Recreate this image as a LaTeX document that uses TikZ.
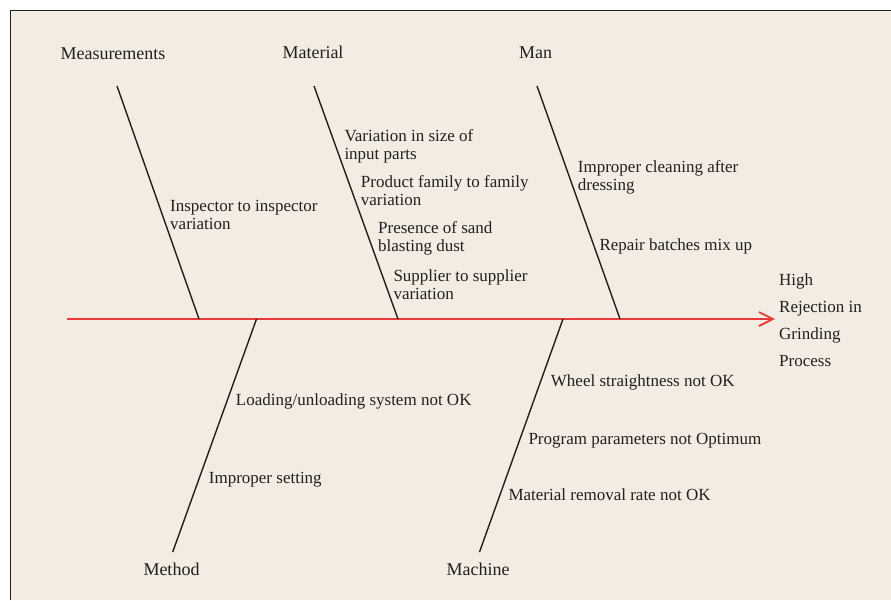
\documentclass[tikz,border=0pt]{standalone}
\usepackage{fontspec}
\setmainfont{Liberation Serif}
\usetikzlibrary{arrows.meta}
\definecolor{bgbeige}{RGB}{242,236,227}
\definecolor{spinered}{RGB}{232,58,58}
\definecolor{ink}{RGB}{35,31,32}
\newcommand{\mlines}[1]{\begin{tabular}[t]{@{}l@{}}#1\end{tabular}}
\begin{document}
\begin{tikzpicture}[x=1pt,y=-1pt,
  cat/.style={anchor=base,inner sep=0pt,text=ink,font=\fontsize{18}{20}\selectfont},
  cause/.style={anchor=base west,inner sep=0pt,text=ink,font=\fontsize{17}{18}\selectfont},
  effect/.style={anchor=base west,inner sep=0pt,text=ink,font=\fontsize{17}{27}\selectfont},
  bone/.style={draw=ink,line width=1.4pt},
  spineline/.style={draw=spinered,line width=1.8pt,-{Straight Barb[length=14pt,width=14pt,line width=1.8pt]}}]
\useasboundingbox (0,0) rectangle (891,600);
\fill[white] (0,0) rectangle (891,600);
\fill[bgbeige] (10.5,10.5) rectangle (891,600);
\draw[ink,line width=1.2pt] (10.5,600) -- (10.5,10.5) -- (891,10.5);

% category labels
\node[cat] (lmea) at (113,59) {Measurements};
\node[cat] (lmat) at (313,58.5) {Material};
\node[cat] (lman) at (535.5,58.5) {Man};
\node[cat] (lmet) at (171.5,575) {Method};
\node[cat] (lmac) at (478,575) {Machine};

% bone ends
\coordinate (meatop) at (117,86);
\coordinate (meafoot) at (199,319);
\coordinate (mattop) at (314,86);
\coordinate (matfoot) at (398,319);
\coordinate (mantop) at (537,86);
\coordinate (manfoot) at (620,319);
\coordinate (mettop) at (256.5,319);
\coordinate (metfoot) at (172.7,552);
\coordinate (mactop) at (563,319);
\coordinate (macfoot) at (479.5,552);
\coordinate (tail) at (67,319);
\coordinate (head) at (775,319);

% spine and effect
\draw[spineline] (tail) -- (head);
\node[effect] (eff) at (779,285.7) {\mlines{High\\Rejection in\\Grinding\\Process}};

% bones
\draw[bone] (meatop) -- (meafoot);
\draw[bone] (mattop) -- (matfoot);
\draw[bone] (mantop) -- (manfoot);
\draw[bone] (mettop) -- (metfoot);
\draw[bone] (mactop) -- (macfoot);

% causes
\node[cause] (c1) at (170,211.5) {\mlines{Inspector to inspector\\variation}};
\node[cause] (c2) at (344.3,141.7) {\mlines{Variation in size of\\input parts}};
\node[cause] (c3) at (360.7,187.3) {\mlines{Product family to family\\variation}};
\node[cause] (c4) at (378,233.3) {\mlines{Presence of sand\\blasting dust}};
\node[cause] (c5) at (393.3,281) {\mlines{Supplier to supplier\\variation}};
\node[cause] (c6) at (577.7,172.7) {\mlines{Improper cleaning after\\dressing}};
\node[cause] (c7) at (599.3,250) {Repair batches mix up};
\node[cause] (c8) at (235.7,405) {Loading/unloading system not OK};
\node[cause] (c9) at (208.7,483.3) {Improper setting};
\node[cause] (c10) at (550.7,386) {Wheel straightness not OK};
\node[cause] (c11) at (528.3,444) {Program parameters not Optimum};
\node[cause] (c12) at (508.3,500.7) {Material removal rate not OK};
\end{tikzpicture}
\end{document}
